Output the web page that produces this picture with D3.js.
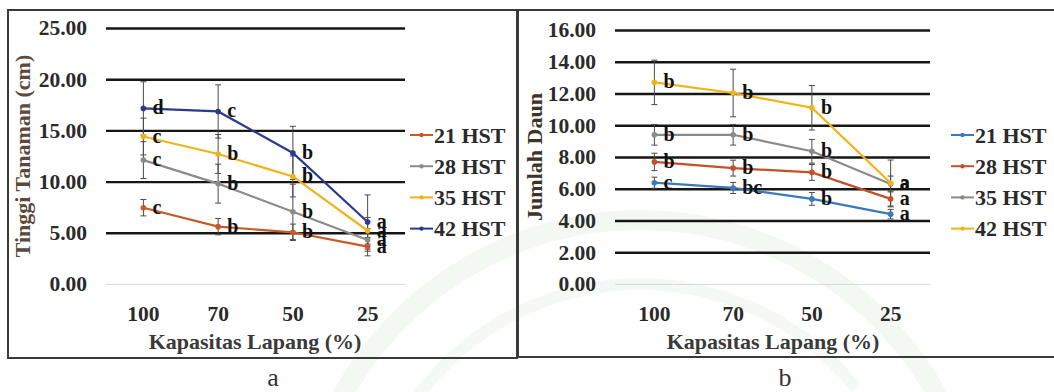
<!DOCTYPE html>
<html>
<head>
<meta charset="utf-8">
<script src="https://cdn.jsdelivr.net/npm/d3@7"></script>
<style>
  body { margin: 0; background: #fff; }
  svg { display: block; }
  text { font-family: "Liberation Serif", "Times New Roman", serif; }
</style>
</head>
<body>
<script>
// categories (Kapasitas Lapang %)
const categories = ["100", "70", "50", "25"];
const seriesNames = ["21 HST", "28 HST", "35 HST", "42 HST"];

// panel a: Tinggi Tanaman (cm)
const tinggiTicks = [0, 5, 10, 15, 20, 25];
const tinggi21 = [7.45, 5.6, 5.05, 3.65];
const tinggi28 = [12.1, 9.8, 7.05, 4.3];
const tinggi35 = [14.4, 12.7, 10.5, 5.2];
const tinggi42 = [17.15, 16.85, 12.8, 6.05];
const tinggiErr21 = [0.8, 0.8, 0.8, 0.9];
const tinggiErr28 = [1.8, 1.9, 2.7, 1.1];
const tinggiErr35 = [1.8, 1.9, 2.0, 1.3];
const tinggiErr42 = [2.6, 2.6, 2.6, 2.65];
const tinggiLetters21 = ["c", "b", "b", "a"];
const tinggiLetters28 = ["c", "b", "b", "a"];
const tinggiLetters35 = ["c", "b", "b", "a"];
const tinggiLetters42 = ["d", "c", "b", "a"];

// panel b: Jumlah Daun
const daunTicks = [0, 2, 4, 6, 8, 10, 12, 14, 16];
const daun21 = [6.38, 6.05, 5.36, 4.4];
const daun28 = [7.69, 7.3, 7.03, 5.36];
const daun35 = [9.4, 9.4, 8.36, 6.3];
const daun42 = [12.7, 12.03, 11.1, 6.36];
const daunErr21 = [0.35, 0.35, 0.4, 0.3];
const daunErr28 = [0.55, 0.5, 0.5, 0.5];
const daunErr35 = [0.65, 0.65, 0.75, 0.5];
const daunErr42 = [1.4, 1.5, 1.4, 1.45];
const daunLetters21 = ["c", "bc", "b", "a"];
const daunLetters28 = ["b", "b", "b", "a"];
const daunLetters35 = ["b", "b", "b", "a"];
const daunLetters42 = ["b", "b", "b", "a"];

const W = 1054, H = 392;
const svg = d3.select("body").append("svg").attr("width", W).attr("height", H);

// very faint watermark arcs behind everything
const wm = svg.append("g").attr("transform", "translate(640,560)");
wm.append("path").attr("d", d3.arc()({ innerRadius: 330, outerRadius: 350, startAngle: -1.5, endAngle: 1.1 }))
  .attr("fill", "#f3f8f3");
wm.append("path").attr("d", d3.arc()({ innerRadius: 270, outerRadius: 282, startAngle: -1.35, endAngle: 0.9 }))
  .attr("fill", "#f5f9f5");

const panels = [
  {
    box: [8, 10, 509, 348],
    x0: 106, x1: 405, yTop: 28, yBot: 284, max: 25, ticks: tinggiTicks,
    tickRight: 87, yTitle: "Tinggi Tanaman (cm)", yTitleX: 30, yTitleColor: "#5b4a3c",
    xTitleX: 255, legendX: 410, caption: "a", captionX: 273,
    series: [
      { name: seriesNames[0], values: tinggi21, err: tinggiErr21, letters: tinggiLetters21, color: "#c65a28" },
      { name: seriesNames[1], values: tinggi28, err: tinggiErr28, letters: tinggiLetters28, color: "#8c8c8c" },
      { name: seriesNames[2], values: tinggi35, err: tinggiErr35, letters: tinggiLetters35, color: "#eeb41c" },
      { name: seriesNames[3], values: tinggi42, err: tinggiErr42, letters: tinggiLetters42, color: "#2b3a8c" }
    ]
  },
  {
    box: [518, 10, 560, 347],
    x0: 615, x1: 930, yTop: 30, yBot: 284, max: 16, ticks: daunTicks,
    tickRight: 596, yTitle: "Jumlah Daun", yTitleX: 542, yTitleColor: "#3d3328",
    xTitleX: 773, legendX: 951, caption: "b", captionX: 785,
    series: [
      { name: seriesNames[0], values: daun21, err: daunErr21, letters: daunLetters21, color: "#3b78c0" },
      { name: seriesNames[1], values: daun28, err: daunErr28, letters: daunLetters28, color: "#c4502a" },
      { name: seriesNames[2], values: daun35, err: daunErr35, letters: daunLetters35, color: "#8a8a8a" },
      { name: seriesNames[3], values: daun42, err: daunErr42, letters: daunLetters42, color: "#f0b414" }
    ]
  }
];

panels.forEach(p => {
  const g = svg.append("g");
  const [bx, by, bw, bh] = p.box;
  g.append("rect").attr("x", bx).attr("y", by).attr("width", bw).attr("height", bh)
    .attr("fill", "none").attr("stroke", "#3a3a3a").attr("stroke-width", 2);

  const x = d3.scaleBand().domain(categories).range([p.x0, p.x1]);
  const y = d3.scaleLinear().domain([0, p.max]).range([p.yBot, p.yTop]);
  const cx = c => x(c) + x.bandwidth() / 2;

  // gridlines + y tick labels
  const yAxis = g.append("g").attr("transform", `translate(${p.x0},0)`)
    .call(d3.axisLeft(y).tickValues(p.ticks).tickFormat(d => d.toFixed(2))
      .tickSize(-(p.x1 - p.x0)).tickPadding(p.x0 - p.tickRight));
  yAxis.select(".domain").remove();
  yAxis.selectAll(".tick line")
    .attr("stroke", d => d === 0 ? "#d9d9d9" : "#161616")
    .attr("stroke-width", d => d === 0 ? 1 : 2.4);
  yAxis.selectAll(".tick text").attr("font-size", 21.5).attr("font-weight", "bold").attr("fill", "#2a2a2a");

  // x tick labels
  const xAxis = g.append("g").attr("transform", `translate(0,${p.yBot})`)
    .call(d3.axisBottom(x).tickSize(0).tickPadding(22));
  xAxis.select(".domain").remove();
  xAxis.selectAll(".tick text").attr("font-size", 21.5).attr("font-weight", "bold").attr("fill", "#2a2a2a");

  // axis titles
  g.append("text").attr("x", p.xTitleX).attr("y", 349).attr("text-anchor", "middle")
    .attr("font-size", 22).attr("font-weight", "bold").attr("fill", "#3a3a3a")
    .text("Kapasitas Lapang (%)");
  g.append("text").attr("transform", `translate(${p.yTitleX},${(p.yTop + p.yBot) / 2}) rotate(-90)`)
    .attr("text-anchor", "middle").attr("font-size", 22).attr("font-weight", "bold")
    .attr("fill", p.yTitleColor).text(p.yTitle);

  // error bars
  p.series.forEach(s => {
    const eb = g.append("g").attr("stroke", "#4a4a4a").attr("stroke-width", 1);
    categories.forEach((c, i) => {
      const hi = y(s.values[i] + s.err[i]), lo = y(s.values[i] - s.err[i]);
      eb.append("line").attr("x1", cx(c)).attr("x2", cx(c)).attr("y1", hi).attr("y2", lo);
      eb.append("line").attr("x1", cx(c) - 3).attr("x2", cx(c) + 3).attr("y1", hi).attr("y2", hi);
      eb.append("line").attr("x1", cx(c) - 3).attr("x2", cx(c) + 3).attr("y1", lo).attr("y2", lo);
    });
  });

  // lines, markers, letters
  const line = d3.line().x((d, i) => cx(categories[i])).y(d => y(d));
  p.series.forEach(s => {
    g.append("path").datum(s.values).attr("d", line)
      .attr("fill", "none").attr("stroke", s.color).attr("stroke-width", 2.2);
    g.selectAll(null).data(s.values).join("circle")
      .attr("cx", (d, i) => cx(categories[i])).attr("cy", d => y(d)).attr("r", 2.8).attr("fill", s.color);
    g.selectAll(null).data(s.values).join("text")
      .attr("x", (d, i) => cx(categories[i]) + 9).attr("y", d => y(d)).attr("dy", "0.3em")
      .attr("font-size", 20).attr("font-weight", "bold").attr("fill", "#111")
      .text((d, i) => s.letters[i]);
  });

  // legend
  p.series.forEach((s, i) => {
    const ly = 135 + i * 31.2;
    const lg = g.append("g").attr("transform", `translate(${p.legendX},${ly})`);
    lg.append("line").attr("x1", 0).attr("x2", 23).attr("stroke", s.color).attr("stroke-width", 2);
    lg.append("circle").attr("cx", 11.5).attr("r", 2.2).attr("fill", s.color);
    lg.append("text").attr("x", 24).attr("y", 7.5).attr("font-size", 22).attr("font-weight", "bold")
      .attr("fill", "#2a2a2a").text(s.name);
  });

  // panel caption
  svg.append("text").attr("x", p.captionX).attr("y", 386).attr("text-anchor", "middle")
    .attr("font-size", 26).attr("fill", "#333").text(p.caption);
});
</script>
</body>
</html>
